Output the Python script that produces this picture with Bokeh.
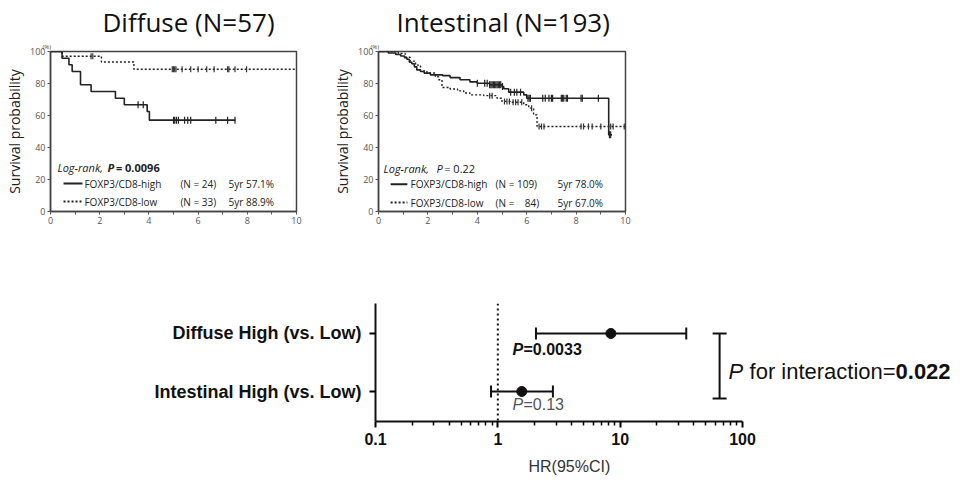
import numpy as np
from bokeh.plotting import figure
from bokeh.layouts import column, row
from bokeh.models import (Range1d, FixedTicker, Label, Whisker, TeeHead, Title,
                          ColumnDataSource, Span, CustomJSTickFormatter)
from bokeh.core.properties import value
from bokeh.embed import file_html
from bokeh.resources import INLINE

# ---------------- data ----------------
# Diffuse (N=57)
dif_hi_t = [0, 0.47, 0.75, 0.88, 1.22, 1.65, 2.64, 3.0, 3.93, 4.02, 7.52]
dif_hi_s = [100, 95.8, 91.7, 87.5, 79.2, 75.0, 70.8, 66.7, 62.5, 57.1, 57.1]
dif_hi_cens = [3.56, 3.77, 5.0, 5.05, 5.12, 5.2, 5.45, 5.58, 5.7, 6.72, 7.2, 7.5]
dif_lo_t = [0, 0.47, 2.07, 3.39, 10.0]
dif_lo_s = [100, 97.0, 93.4, 88.9, 88.9]
dif_lo_cens = [1.65, 1.72, 4.95, 5.0, 5.05, 5.1, 5.35, 5.7, 6.0, 6.35, 6.65,
               7.2, 7.25, 7.5, 7.97]

# Intestinal (N=193)
int_hi_t = [0, 0.4, 0.7, 0.9, 1.05, 1.15, 1.25, 1.35, 1.45, 1.55, 1.7, 1.85,
            2.1, 2.6, 2.9, 3.3, 3.7, 4.0, 4.5, 5.0, 5.07, 5.27, 5.88, 6.0,
            9.32, 9.45]
int_hi_s = [100, 99.1, 98.1, 97.2, 96.2, 95.2, 93.3, 92.3, 90.4, 88.5, 87.5,
            86.5, 85.4, 84.9, 83.7, 82.3, 81.0, 80.2, 79.2, 78.1, 76.7, 74.6,
            72.9, 70.8, 47.9, 47.9]
int_hi_cens = [4.0, 4.3, 4.4, 4.5, 4.55, 4.6, 4.65, 4.7, 4.75, 4.8, 4.85, 4.9,
               4.95, 5.02, 5.35, 5.5, 5.6, 5.75, 6.05, 6.1, 6.15, 6.65, 6.75,
               6.9, 7.0, 7.05, 7.4, 7.45, 7.5, 7.6, 7.65, 8.2, 8.25, 8.9,
               9.35, 9.4]
int_lo_t = [0, 0.8, 1.08, 1.28, 1.5, 1.7, 1.96, 2.3, 2.43, 2.57, 2.9, 3.2,
            3.45, 3.7, 4.26, 4.8, 5.0, 5.34, 5.88, 6.08, 6.28, 6.42, 10.0]
int_lo_s = [100, 98.8, 96.4, 94.0, 91.5, 87.9, 86.6, 84.2, 82.3, 77.5, 76.6,
            75.4, 74.1, 72.9, 72.4, 70.8, 68.8, 68.3, 66.7, 64.6, 60.4, 53.1,
            53.1]
int_lo_cens = [4.5, 4.6, 5.1, 5.2, 5.3, 5.45, 5.55, 5.65, 5.8, 6.2, 6.5, 6.6,
               6.7, 8.2, 8.3, 8.5, 8.65, 9.0, 9.4, 9.5, 9.95]

km_titles = ["Diffuse (N=57)", "Intestinal (N=193)"]
km_pvals = ["= 0.0096", "= 0.22"]
NB = "\u00a0"
km_hi_text = [["FOXP3/CD8-high", "(N = 24)", "5yr 57.1%"],
              ["FOXP3/CD8-high", "(N = 109)", "5yr 78.0%"]]
km_lo_text = [["FOXP3/CD8-low", "(N = 33)", "5yr 88.9%"],
              ["FOXP3/CD8-low", "(N =" + NB * 4 + "84)", "5yr 67.0%"]]
km_yticks = [0, 20, 40, 60, 80, 100]
km_xticks = [0, 2, 4, 6, 8, 10]

# Forest plot
fp_labels = ["Diffuse High (vs. Low)", "Intestinal High (vs. Low)"]
fp_rows = [2, 1]
fp_hr = [8.4, 1.57]
fp_lo = [2.05, 0.88]
fp_hi = [34.7, 2.82]
fp_pval = ["=0.0033", "=0.13"]
fp_xticks = [0.1, 1, 10, 100]
interaction_p = "0.022"

KMF = "Open Sans"
KMF_v = value(KMF)
ARIAL = "Liberation Sans"
INK = "#222222"


def step_value(t, s, c):
    t = np.asarray(t); s = np.asarray(s)
    idx = np.searchsorted(t, np.asarray(c), side="right") - 1
    return s[idx]


def km_panel(i, t_hi, s_hi, c_hi, t_lo, s_lo, c_lo, fw, bl, br, title_off,
             lr_x, p_x, eq_x, ln0, ln1, tx, nx, yx, ylr, yr1, yr2):
    w = bl + fw + br
    p = figure(width=w, height=250, frame_width=fw, frame_height=160,
               min_border_left=bl, min_border_right=br, min_border_top=50,
               min_border_bottom=40, x_range=Range1d(0, 10),
               y_range=Range1d(0, 100), output_backend="svg",
               toolbar_location=None, title=None)
    p.grid.visible = False
    p.outline_line_color = "#444444"
    p.outline_line_width = 1.5
    p.add_layout(Title(text="(%)", align="left", offset=-8, text_font=KMF,
                       text_font_size="6px", text_font_style="normal",
                       text_color="#444444", standoff=1), "above")
    p.add_layout(Title(text=km_titles[i], align="left", offset=title_off,
                       text_font=KMF, text_font_size="26px",
                       text_font_style="normal", text_color="#111111",
                       standoff=2), "above")

    for ax in (p.xaxis[0], p.yaxis[0]):
        ax.axis_line_color = "#444444"
        ax.axis_line_width = 1.5
        ax.major_tick_in = 0
        ax.major_tick_out = 3
        ax.major_tick_line_color = "#555555"
        ax.minor_tick_line_color = "#555555"
        ax.major_label_text_font = KMF
        ax.major_label_text_font_size = "9px"
        ax.major_label_text_color = "#555555"
        ax.major_label_standoff = 2
    p.xaxis.ticker = FixedTicker(ticks=km_xticks, minor_ticks=[1, 3, 5, 7, 9])
    p.xaxis.minor_tick_in = 0
    p.xaxis.minor_tick_out = 3
    p.yaxis.ticker = FixedTicker(ticks=km_yticks)
    p.yaxis.minor_tick_out = 0
    p.yaxis.axis_label = "Survival probability"
    p.yaxis.axis_label_text_font = KMF
    p.yaxis.axis_label_text_font_size = "14px"
    p.yaxis.axis_label_text_font_style = "normal"
    p.yaxis.axis_label_text_color = INK
    p.yaxis.axis_label_standoff = 3

    p.step(t_lo, s_lo, mode="after", line_color=INK, line_width=1.4,
           line_dash="2 2")
    p.step(t_hi, s_hi, mode="after", line_color=INK, line_width=1.6)
    p.scatter(c_lo, step_value(t_lo, s_lo, c_lo), marker="dash",
              angle=np.pi / 2, size=6, line_color="#333333", line_width=1.2)
    p.scatter(c_hi, step_value(t_hi, s_hi, c_hi), marker="dash",
              angle=np.pi / 2, size=7, line_color=INK, line_width=1.2)

    # log-rank annotation
    p.text([lr_x], [ylr], text=["Log-rank,"], text_font=KMF_v,
           text_font_size="11px", text_font_style="italic",
           text_baseline="middle", text_color=INK)
    p.text([p_x], [ylr], text=["P"], text_font=KMF_v, text_font_size="11px",
           text_font_style="bold italic" if i == 0 else "italic",
           text_baseline="middle", text_color=INK)
    p.text([eq_x], [ylr], text=[km_pvals[i]], text_font=KMF_v,
           text_font_size="11px",
           text_font_style="bold" if i == 0 else "normal",
           text_baseline="middle", text_color=INK)
    # legend
    p.segment([ln0], [yr1], [ln1], [yr1], line_color=INK, line_width=2)
    p.segment([ln0], [yr2], [ln1], [yr2], line_color=INK, line_width=2,
              line_dash="2 2")
    for yy, txts in ((yr1, km_hi_text[i]), (yr2, km_lo_text[i])):
        p.text([tx, nx, yx], [yy, yy, yy], text=txts, text_font=KMF_v,
               text_font_size="10px", text_baseline="middle",
               text_color=INK)
    return p


p1 = km_panel(0, dif_hi_t, dif_hi_s, dif_hi_cens, dif_lo_t, dif_lo_s,
              dif_lo_cens, fw=246, bl=50, br=32, title_off=52,
              lr_x=0.28, p_x=2.32, eq_x=2.66, ln0=0.53, ln1=1.30,
              tx=1.38, nx=5.28, yx=7.24, ylr=27.5, yr1=17.5, yr2=6.25)
p2 = km_panel(1, int_hi_t, int_hi_s, int_hi_cens, int_lo_t, int_lo_s,
              int_lo_cens, fw=247, bl=50, br=335, title_off=18,
              lr_x=0.2, p_x=2.35, eq_x=2.66, ln0=0.49, ln1=1.17,
              tx=1.3, nx=4.74, yx=7.25, ylr=27, yr1=17, yr2=5.6)

# ---------------- forest plot ----------------
DECADE_PX = 122.33          # pixels per decade on the HR axis
FW = 583                    # frame extends right to hold the interaction note
p3 = figure(width=960, height=234, frame_width=FW, frame_height=118,
            min_border_left=375, min_border_right=2, min_border_top=52,
            min_border_bottom=64, x_axis_type="log",
            x_range=Range1d(0.1, 10 ** (-1 + FW / DECADE_PX)),
            y_range=Range1d(0.483, 2.517),
            output_backend="svg", toolbar_location=None, title=None)
p3.grid.visible = False
p3.outline_line_color = None

xa = p3.xaxis[0]
xa.bounds = (fp_xticks[0], fp_xticks[-1])
xa.ticker = FixedTicker(
    ticks=fp_xticks,
    minor_ticks=[0.2, 0.3, 0.4, 0.5, 0.6, 0.7, 0.8, 0.9,
                 2, 3, 4, 5, 6, 7, 8, 9, 20, 30, 40, 50, 60, 70, 80, 90])
xa.formatter = CustomJSTickFormatter(code="return String(tick)")
xa.axis_line_width = 2
xa.axis_line_color = "#111111"
xa.major_tick_in = 0
xa.major_tick_out = 6
xa.major_tick_line_width = 2
xa.minor_tick_in = 0
xa.minor_tick_out = 4
xa.minor_tick_line_width = 1.5
xa.major_label_text_font = ARIAL
xa.major_label_text_font_style = "bold"
xa.major_label_text_font_size = "16px"
xa.major_label_text_color = "#111111"
xa.major_label_standoff = 5

ya = p3.yaxis[0]
ya.ticker = FixedTicker(ticks=fp_rows)
ya.major_label_overrides = {r: l for r, l in zip(fp_rows, fp_labels)}
ya.axis_line_width = 2
ya.axis_line_color = "#111111"
ya.major_tick_in = 0
ya.major_tick_out = 6
ya.major_tick_line_width = 2
ya.minor_tick_out = 0
ya.major_label_text_font = ARIAL
ya.major_label_text_font_style = "bold"
ya.major_label_text_font_size = "18px"
ya.major_label_text_color = "#111111"
ya.major_label_standoff = 8

p3.add_layout(Title(text="HR(95%CI)", align="left", offset=153,
                    text_font=ARIAL, text_font_size="16px",
                    text_font_style="normal", text_color="#333333",
                    standoff=17), "below")

p3.add_layout(Span(location=1, dimension="height", line_color="#111111",
                   line_width=2, line_dash="2 3"))

src = ColumnDataSource(dict(y=fp_rows, hr=fp_hr, lo=fp_lo, hi=fp_hi))
p3.add_layout(Whisker(source=src, base="y", lower="lo", upper="hi",
                      dimension="width", line_width=2, line_color="#111111",
                      lower_head=TeeHead(size=12, line_width=2,
                                         line_color="#111111"),
                      upper_head=TeeHead(size=12, line_width=2,
                                         line_color="#111111")))
p3.scatter("hr", "y", source=src, size=10, color="#111111")

# P values under the estimates
p_x = 1.318
p3.add_layout(Label(x=p_x, y=1.72, text="P", text_font=ARIAL,
                    text_font_size="16px", text_font_style="bold italic",
                    text_baseline="middle", text_color="#111111"))
p3.add_layout(Label(x=p_x, y=1.72, x_offset=11, text=fp_pval[0],
                    text_font=ARIAL, text_font_size="16px",
                    text_font_style="bold", text_baseline="middle",
                    text_color="#111111"))
p3.add_layout(Label(x=p_x, y=0.776, text="P", text_font=ARIAL,
                    text_font_size="16px", text_font_style="italic",
                    text_baseline="middle", text_color="#555555"))
p3.add_layout(Label(x=p_x, y=0.776, x_offset=11, text=fp_pval[1],
                    text_font=ARIAL, text_font_size="16px",
                    text_baseline="middle", text_color="#555555"))

# interaction bracket
bsrc = ColumnDataSource(dict(x=[65], lo=[0.88], hi=[2.0]))
p3.add_layout(Whisker(source=bsrc, base="x", lower="lo", upper="hi",
                      dimension="height", line_width=2, line_color="#111111",
                      lower_head=TeeHead(size=14, line_width=2,
                                         line_color="#111111"),
                      upper_head=TeeHead(size=14, line_width=2,
                                         line_color="#111111")))
ix = 76.9
iy = 1.345
p3.add_layout(Label(x=ix, y=iy, text="P", text_font=ARIAL,
                    text_font_size="22px", text_font_style="italic",
                    text_baseline="middle", text_color="#111111"))
p3.add_layout(Label(x=ix, y=iy, x_offset=21, text="for interaction=",
                    text_font=ARIAL, text_font_size="22px",
                    text_baseline="middle", text_color="#111111"))
p3.add_layout(Label(x=ix, y=iy, x_offset=167, text=interaction_p,
                    text_font=ARIAL, text_font_size="22px",
                    text_font_style="bold", text_baseline="middle",
                    text_color="#111111"))

layout = column(row(p1, p2), p3)
open("out.html", "w").write(file_html(layout, INLINE))
